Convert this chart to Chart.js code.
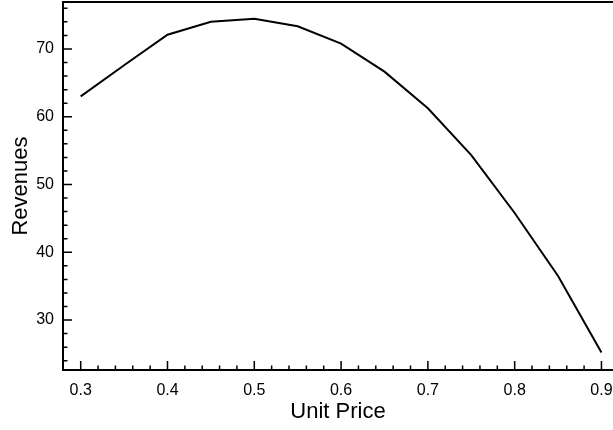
<!DOCTYPE html>
<html>
<head>
<meta charset="utf-8">
<script src="https://cdn.jsdelivr.net/npm/chart.js@4"></script>
<style>
  html, body { margin: 0; padding: 0; background: #fff; }
  #wrap { width: 613px; height: 430px; }
</style>
</head>
<body>
<div id="wrap"><canvas id="chart" width="613" height="430"></canvas></div>
<script>
var unitPrice = [0.3, 0.35, 0.4, 0.45, 0.5, 0.55, 0.6, 0.65, 0.7, 0.75, 0.8, 0.85, 0.9];
var revenues = [63.0, 67.6, 72.1, 74.0, 74.45, 73.35, 70.8, 66.65, 61.25, 54.35, 45.8, 36.5, 25.2];
var xTickValues = [0.3, 0.4, 0.5, 0.6, 0.7, 0.8, 0.9];
var yTickValues = [30, 40, 50, 60, 70];

var FONT = 'Liberation Sans, Arial, Helvetica, sans-serif';

// inward major/minor ticks and the top frame line
var frameTicks = {
  id: 'frameTicks',
  afterDraw: function (chart) {
    var ctx = chart.ctx;
    var area = chart.chartArea;
    var xs = chart.scales.x;
    var ys = chart.scales.y;
    ctx.save();
    ctx.strokeStyle = '#000';
    ctx.lineWidth = 1.5;
    ctx.beginPath();
    var i, v, px, len;
    for (i = 0; ; i += 1) {
      v = 0.28 + i * 0.02;
      if (v > xs.max) break;
      px = xs.getPixelForValue(v);
      if (px < area.left + 1) continue;
      len = Math.abs(Math.round(v * 100) % 10) === 0 ? 9 : 4.5;
      ctx.moveTo(px, area.bottom);
      ctx.lineTo(px, area.bottom - len);
    }
    for (i = 0; ; i += 1) {
      v = 24 + i * 2;
      if (v > ys.max) break;
      px = ys.getPixelForValue(v);
      len = v % 10 === 0 ? 9 : 4.5;
      ctx.moveTo(area.left, px);
      ctx.lineTo(area.left + len, px);
    }
    ctx.stroke();
    ctx.lineWidth = 2;
    ctx.beginPath();
    ctx.moveTo(area.left - 1, area.top);
    ctx.lineTo(chart.width, area.top);
    ctx.stroke();
    ctx.restore();
  }
};

new Chart(document.getElementById('chart'), {
  type: 'line',
  data: {
    datasets: [{
      data: unitPrice.map(function (p, i) { return { x: p, y: revenues[i] }; }),
      borderColor: '#000',
      borderWidth: 2,
      pointRadius: 0,
      tension: 0,
      fill: false,
    }],
  },
  options: {
    responsive: false,
    animation: false,
    layout: { padding: { top: 2, right: 0, left: 0, bottom: 0 } },
    plugins: { legend: { display: false }, tooltip: { enabled: false } },
    scales: {
      x: {
        type: 'linear',
        min: 0.2796,
        max: 0.9133,
        afterBuildTicks: function (s) { s.ticks = xTickValues.map(function (v) { return { value: v }; }); },
        afterFit: function (s) { s.height = 60; s.paddingLeft = 0; s.paddingRight = 0; },
        grid: { display: false, drawTicks: false },
        border: { display: true, color: '#000', width: 2 },
        ticks: {
          color: '#000', padding: 11, maxRotation: 0, autoSkip: false,
          font: { family: FONT, size: 16 },
          callback: function (v) { return v.toFixed(1); },
        },
        title: {
          display: true, text: 'Unit Price', color: '#000',
          font: { family: FONT, size: 22 }, padding: { top: 0, bottom: 5 },
        },
      },
      y: {
        type: 'linear',
        min: 22.63,
        max: 76.93,
        afterBuildTicks: function (s) { s.ticks = yTickValues.map(function (v) { return { value: v }; }); },
        afterFit: function (s) { s.width = 63; s.paddingTop = 0; s.paddingBottom = 0; },
        grid: { display: false, drawTicks: false },
        border: { display: true, color: '#000', width: 2 },
        ticks: {
          color: '#000', padding: 9, autoSkip: false,
          font: { family: FONT, size: 16 },
        },
        title: {
          display: true, text: 'Revenues', color: '#000',
          font: { family: FONT, size: 22 }, padding: { top: 8, bottom: 0 },
        },
      },
    },
  },
  plugins: [frameTicks],
});
</script>
</body>
</html>
